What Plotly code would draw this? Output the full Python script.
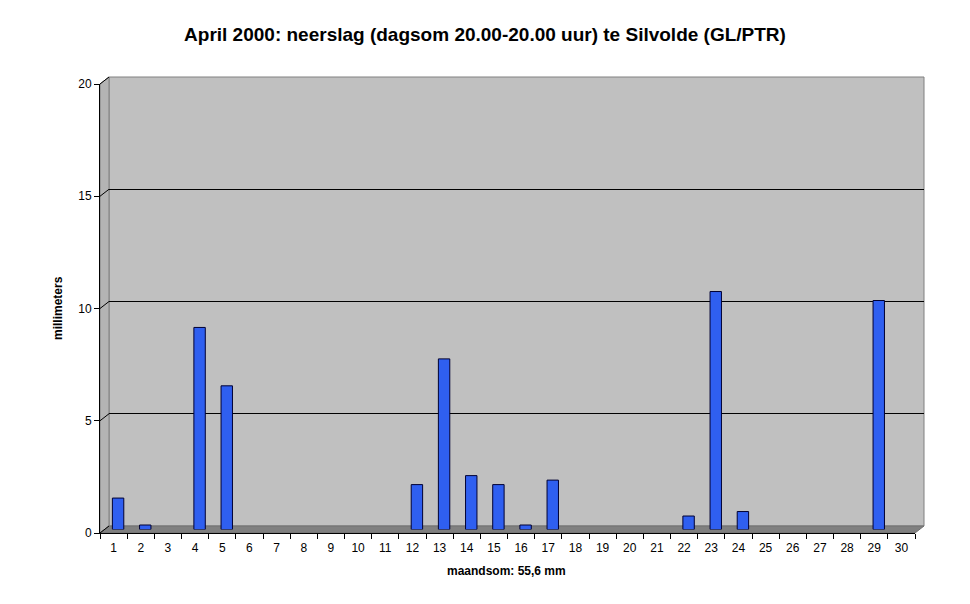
import plotly.graph_objects as go

# April 2000 daily rainfall (mm), Silvolde
days = [str(d) for d in range(1, 31)]
rain_mm = [1.4, 0.2, 0.0, 9.0, 6.4, 0.0, 0.0, 0.0, 0.0, 0.0,
           0.0, 2.0, 7.6, 2.4, 2.0, 0.2, 2.2, 0.0, 0.0, 0.0,
           0.0, 0.6, 10.6, 0.8, 0.0, 0.0, 0.0, 0.0, 10.2, 0.0]
y_ticks = [0, 5, 10, 15, 20]

title = "April 2000: neerslag (dagsom 20.00-20.00 uur) te Silvolde (GL/PTR)"
x_title = "maandsom: 55,6 mm"
y_title = "millimeters"

FONT = "Liberation Sans, Arial, sans-serif"

# pseudo-3D geometry (pixels); the page body adds an ~8px offset
W, H = 970, 604
PAGE_DX, PAGE_DY = 8, 7
ML, MT = 100 - PAGE_DX, 76 - PAGE_DY
PW, PH = 824, 456
MR, MB = W - ML - PW, H - MT - PH
DX, DY = 9, 7  # depth offset of the back wall

fx = (PW - DX) / PW
fy = (PH - DY) / PH
ox, oy = DX / PW, DY / PH

fig = go.Figure()
# invisible traces so the front plane and back wall subplots get drawn
for xa, ya in (("x", "y"), ("x2", "y2")):
    fig.add_trace(go.Scatter(x=days, y=rain_mm, xaxis=xa, yaxis=ya, mode="markers",
                             marker=dict(opacity=0), hoverinfo="skip"))
fig.add_trace(go.Bar(
    x=days, y=[v if v > 0 else None for v in rain_mm], xaxis="x3", yaxis="y3",
    width=0.42,
    marker=dict(color="#2f5ff0", line=dict(color="#000033", width=1)),
    hoverinfo="x+y",
))

cat_range = [-0.5, 29.5]
fig.update_layout(
    width=W, height=H,
    margin=dict(l=ML, r=MR, t=MT, b=MB),
    paper_bgcolor="white",
    plot_bgcolor="rgba(0,0,0,0)",
    showlegend=False,
    title=dict(text="<b>" + title + "</b>", x=(485 - PAGE_DX) / W, xanchor="center",
               y=1 - (33 - PAGE_DY) / H, yanchor="middle",
               font=dict(family=FONT, size=19, color="black")),
    font=dict(family=FONT, size=12, color="black"),
    # front plane: tick labels and axis lines
    xaxis=dict(domain=[0, fx], anchor="y", type="category", categoryarray=days,
               range=cat_range,
               showgrid=False, showline=True, linecolor="black", linewidth=1,
               ticks="outside", ticklen=5, tickcolor="black", tickson="boundaries",
               ticklabelstandoff=4,
               tickfont=dict(size=12), zeroline=False, fixedrange=True),
    yaxis=dict(domain=[0, fy], anchor="x", range=[0, 20], tickvals=y_ticks,
               showgrid=False, showline=True, linecolor="black", linewidth=1,
               ticks="outside", ticklen=5, tickcolor="black",
               tickfont=dict(size=12), zeroline=False, fixedrange=True),
    # back wall: gridlines
    xaxis2=dict(domain=[ox, 1], anchor="y2", type="category", categoryarray=days,
                range=cat_range, showgrid=False, showticklabels=False, ticks="",
                showline=False, zeroline=False, fixedrange=True),
    yaxis2=dict(domain=[oy, 1], anchor="x2", range=[0, 20], tickvals=[5, 10, 15],
                showgrid=True, gridcolor="black", gridwidth=1, showticklabels=False,
                ticks="", showline=False, zeroline=False, fixedrange=True),
    # mid depth: bars
    xaxis3=dict(domain=[ox / 2, fx + ox / 2], anchor="y3", type="category",
                categoryarray=days, range=cat_range, visible=False, fixedrange=True),
    yaxis3=dict(domain=[oy / 2, fy + oy / 2], anchor="x3", range=[0, 20],
                visible=False, fixedrange=True),
    bargap=0.5,
)

# back wall
fig.add_shape(type="rect", xref="paper", yref="paper", x0=ox, x1=1, y0=oy, y1=1,
              fillcolor="#c0c0c0", line=dict(color="#808080", width=1), layer="below")
# left side wall
fig.add_shape(type="path", xref="paper", yref="paper", layer="below",
              path=f"M 0,0 L 0,{fy} L {ox},1 L {ox},{oy} Z",
              fillcolor="#b4b4b4", line=dict(color="#808080", width=1))
# floor
fig.add_shape(type="path", xref="paper", yref="paper", layer="below",
              path=f"M 0,0 L {fx},0 L 1,{oy} L {ox},{oy} Z",
              fillcolor="#808080", line=dict(color="#707070", width=1))
# tick connectors from front axis to back wall
for v in y_ticks:
    yf = v / 20 * fy
    fig.add_shape(type="line", xref="paper", yref="paper",
                  x0=0, y0=yf, x1=ox, y1=yf + oy,
                  line=dict(color="black", width=1))

fig.add_annotation(text="<b>" + x_title + "</b>", xref="paper", yref="paper",
                   x=(506 - 100) / PW, y=-(570 - 532) / PH,
                   xanchor="center", yanchor="middle", showarrow=False,
                   font=dict(family=FONT, size=12, color="black"))
fig.add_annotation(text="<b>" + y_title + "</b>", xref="paper", yref="paper",
                   x=-(100 - 58) / PW, y=(532 - 307) / PH, textangle=-90,
                   xanchor="center", yanchor="middle", showarrow=False,
                   font=dict(family=FONT, size=12, color="black"))

fig.write_html("out.html")
